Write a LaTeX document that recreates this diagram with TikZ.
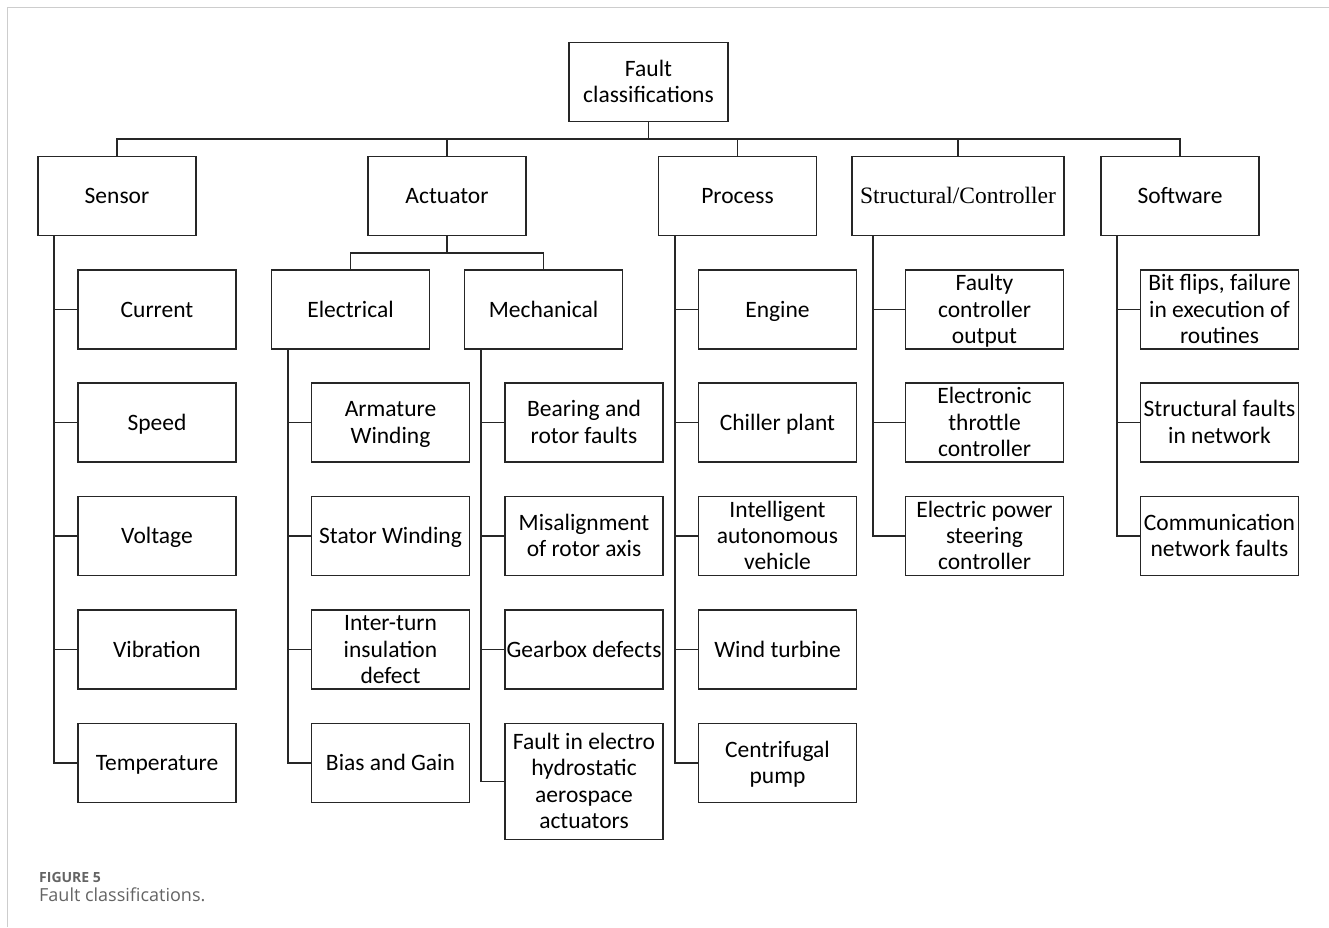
\documentclass[tikz,border=0pt]{standalone}
\usepackage{fontspec}
\usepackage{array}
\setmainfont{Carlito}
\newfontfamily\serifface{Liberation Serif}
\newfontfamily\capface{Open Sans}
\usetikzlibrary{calc}
\definecolor{framegray}{RGB}{205,205,205}
\definecolor{capgray}{RGB}{100,100,100}
% every text line gets the same height and depth, so lines are evenly spaced
\newcommand\linestrut{\rule[-5.6pt]{0pt}{26.3pt}}
\newcommand\lines[1]{{\renewcommand\arraystretch{0.4}%
  \begin{tabular}{@{}>{\linestrut}c@{}}#1\end{tabular}}}
\tikzset{
  box/.style={draw=black!85, line width=1.7pt, inner sep=0pt,
    minimum width=158pt, minimum height=79pt,
    font=\fontsize{23.5}{26.3}\selectfont},
  link/.style={draw=black!85, line width=1.7pt},
}
\begin{document}
\begin{tikzpicture}[x=1pt,y=-1pt]
\useasboundingbox (0,0) rectangle (1329,927);
% page frame
\draw[framegray, line width=1.5pt] (7.5,927) -- (7.5,7.5) -- (1329,7.5);

% root
\node[box, minimum width=159pt] (root) at (648.5,82) {\lines{Fault\\classifications}};
\coordinate (bus) at (648.5,139);

% first level
\node[box] (sensor) at (117,196) {\lines{Sensor}};
\node[box] (actuator) at (447,196) {\lines{Actuator}};
\node[box] (process) at (737.5,196) {\lines{Process}};
\node[box, minimum width=212pt] (struct) at (958,196) {\lines{\serifface Structural/Controller}};
\node[box] (software) at (1180,196) {\lines{Software}};

\foreach \n in {sensor,actuator,process,struct,software}
  \draw[link] (root.south) -- (root.south |- bus) -| (\n.north);

% sensor children
\node[box] (current) at (157,309.5) {\lines{Current}};
\node[box] (speed) at (157,422.5) {\lines{Speed}};
\node[box] (voltage) at (157,536) {\lines{Voltage}};
\node[box] (vibration) at (157,649.5) {\lines{Vibration}};
\node[box] (temperature) at (157,763) {\lines{Temperature}};
\foreach \n in {current,speed,voltage,vibration,temperature}
  \draw[link] ([xshift=17pt]sensor.south west) |- (\n.west);

% actuator branches
\node[box] (electrical) at (350.5,309.5) {\lines{Electrical}};
\node[box] (mechanical) at (543.5,309.5) {\lines{Mechanical}};
\coordinate (abus) at (447,253);
\foreach \n in {electrical,mechanical}
  \draw[link] (actuator.south) -- (actuator.south |- abus) -| (\n.north);

\node[box] (armature) at (390.5,422.5) {\lines{Armature\\Winding}};
\node[box] (stator) at (390.5,536) {\lines{Stator Winding}};
\node[box] (interturn) at (390.5,649.5) {\lines{Inter-turn\\insulation\\defect}};
\node[box] (bias) at (390.5,763) {\lines{Bias and Gain}};
\foreach \n in {armature,stator,interturn,bias}
  \draw[link] ([xshift=17pt]electrical.south west) |- (\n.west);

\node[box] (bearing) at (584,422.5) {\lines{Bearing and\\rotor faults}};
\node[box] (misalign) at (584,536) {\lines{Misalignment\\of rotor axis}};
\node[box] (gearbox) at (584,649.5) {\lines{Gearbox defects}};
\node[box, minimum height=116pt] (electro) at (584,781.5) {\lines{Fault in electro\\hydrostatic\\aerospace\\actuators}};
\foreach \n in {bearing,misalign,gearbox,electro}
  \draw[link] ([xshift=17pt]mechanical.south west) |- (\n.west);

% process children
\node[box] (engine) at (777.5,309.5) {\lines{Engine}};
\node[box] (chiller) at (777.5,422.5) {\lines{Chiller plant}};
\node[box] (vehicle) at (777.5,536) {\lines{Intelligent\\autonomous\\vehicle}};
\node[box] (wind) at (777.5,649.5) {\lines{Wind turbine}};
\node[box] (pump) at (777.5,763) {\lines{Centrifugal\\pump}};
\foreach \n in {engine,chiller,vehicle,wind,pump}
  \draw[link] ([xshift=17pt]process.south west) |- (\n.west);

% structural/controller children
\node[box] (faulty) at (984.5,309.5) {\lines{Faulty\\controller\\output}};
\node[box] (throttle) at (984.5,422.5) {\lines{Electronic\\throttle\\controller}};
\node[box] (steering) at (984.5,536) {\lines{Electric power\\steering\\controller}};
\foreach \n in {faulty,throttle,steering}
  \draw[link] ([xshift=22pt]struct.south west) |- (\n.west);

% software children
\node[box] (bitflip) at (1219.5,309.5) {\lines{Bit flips, failure\\in execution of\\routines}};
\node[box] (network) at (1219.5,422.5) {\lines{Structural faults\\in network}};
\node[box] (comm) at (1219.5,536) {\lines{Communication\\network faults}};
\foreach \n in {bitflip,network,comm}
  \draw[link] ([xshift=17pt]software.south west) |- (\n.west);

% caption
\node[anchor=base west, inner sep=0pt, text=capgray, font=\capface\fontsize{14}{16}\selectfont\bfseries] (capnum) at (39,882) {FIGURE 5};
\node[anchor=base west, inner sep=0pt, text=capgray, font=\capface\fontsize{18}{20}\selectfont] (captext) at (39,901) {Fault classifications.};
\end{tikzpicture}
\end{document}
